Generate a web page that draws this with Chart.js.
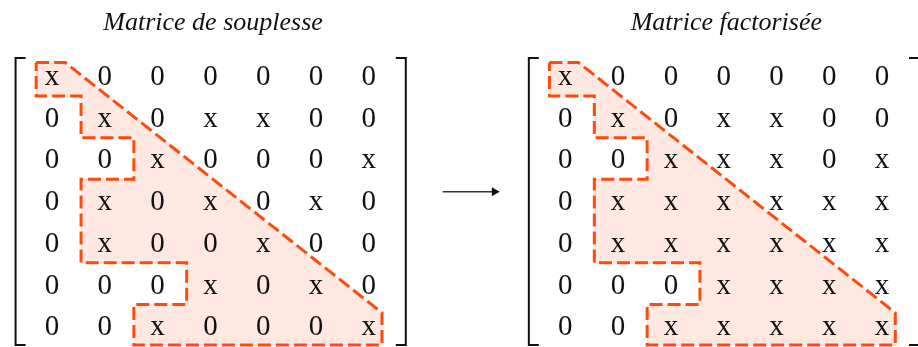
<!DOCTYPE html>
<html>
<head>
<meta charset="utf-8">
<script src="https://cdn.jsdelivr.net/npm/chart.js@4.4.0/dist/chart.umd.min.js"></script>
<style>
  body { margin: 0; background: #fff; }
</style>
</head>
<body>
<canvas id="matrices" width="918" height="347"></canvas>
<script>
// matrix entries, row by row
const souplesse = [
  ['x', '0', '0', '0', '0', '0', '0'],
  ['0', 'x', '0', 'x', 'x', '0', '0'],
  ['0', '0', 'x', '0', '0', '0', 'x'],
  ['0', 'x', '0', 'x', '0', 'x', '0'],
  ['0', 'x', '0', '0', 'x', '0', '0'],
  ['0', '0', '0', 'x', '0', 'x', '0'],
  ['0', '0', 'x', '0', '0', '0', 'x']
];
const factorisee = [
  ['x', '0', '0', '0', '0', '0', '0'],
  ['0', 'x', '0', 'x', 'x', '0', '0'],
  ['0', '0', 'x', 'x', 'x', '0', 'x'],
  ['0', 'x', 'x', 'x', 'x', 'x', 'x'],
  ['0', 'x', 'x', 'x', 'x', 'x', 'x'],
  ['0', '0', '0', 'x', 'x', 'x', 'x'],
  ['0', '0', 'x', 'x', 'x', 'x', 'x']
];
const titles = ['Matrice de souplesse', 'Matrice factorisée'];

// column offset of the second matrix (in cells)
const shift = 9.72;
const n = souplesse.length;

// skyline outline: first non zero of each row, then the diagonal
function profile(m, dx) {
  const first = m.map(row => row.indexOf('x'));
  const top = -0.3, bottom = n - 1 + 0.47;
  const pts = [];
  pts.push({x: first[0] - 0.3 + dx, y: top});
  pts.push({x: first[0] + 0.25 + dx, y: top});
  pts.push({x: n - 1 + 0.25 + dx, y: n - 1 - 0.3});
  pts.push({x: n - 1 + 0.25 + dx, y: bottom});
  for (let r = n - 1; r >= 0; r--) {
    const pad = r === 0 ? 0.3 : 0.45;
    pts.push({x: first[r] - pad + dx, y: r === n - 1 ? bottom : r + 0.5});
    pts.push({x: first[r] - pad + dx, y: r === 0 ? top : r - 0.5});
  }
  return pts;
}

const outline = {
  type: 'scatter',
  showLine: true,
  fill: 'shape',
  backgroundColor: 'rgba(255, 80, 20, 0.13)',
  borderColor: '#ff4a0d',
  borderWidth: 3,
  borderDash: [13, 5],
  borderJoinStyle: 'miter',
  pointRadius: 0,
  tension: 0
};

const cellFont = '29px "Times New Roman", "Liberation Serif", serif';
const titleFont = 'italic 26px "Times New Roman", "Liberation Serif", serif';

const matrixText = {
  id: 'matrixText',
  afterDatasetsDraw(chart) {
    const {ctx, scales: {x, y}} = chart;
    ctx.save();
    ctx.fillStyle = '#111';
    ctx.strokeStyle = '#111';
    ctx.textAlign = 'center';
    ctx.textBaseline = 'alphabetic';
    [souplesse, factorisee].forEach((m, k) => {
      const dx = k * shift;
      ctx.font = cellFont;
      m.forEach((row, r) => row.forEach((v, c) => {
        ctx.fillText(v, x.getPixelForValue(c + dx), y.getPixelForValue(r) + 10);
      }));
      // brackets
      const yt = y.getPixelForValue(-0.41), yb = y.getPixelForValue(n - 1 + 0.47);
      const xl = x.getPixelForValue(-0.69 + dx), xr = x.getPixelForValue(n - 1 + 0.7 + dx);
      ctx.lineWidth = 2;
      ctx.beginPath();
      ctx.moveTo(xl + 10, yt); ctx.lineTo(xl, yt); ctx.lineTo(xl, yb); ctx.lineTo(xl + 10, yb);
      ctx.moveTo(xr - 10, yt); ctx.lineTo(xr, yt); ctx.lineTo(xr, yb); ctx.lineTo(xr - 10, yb);
      ctx.stroke();
      // title
      ctx.font = titleFont;
      ctx.fillText(titles[k], x.getPixelForValue(3.05 + dx), 30);
    });
    // arrow between the two matrices
    const ay = y.getPixelForValue(2.8);
    const ax0 = x.getPixelForValue(7.4), ax1 = x.getPixelForValue(8.48);
    ctx.strokeStyle = '#333';
    ctx.fillStyle = '#111';
    ctx.lineWidth = 1.5;
    ctx.beginPath();
    ctx.moveTo(ax0, ay); ctx.lineTo(ax1 - 6, ay);
    ctx.stroke();
    ctx.beginPath();
    ctx.moveTo(ax1, ay); ctx.lineTo(ax1 - 8, ay - 4.5); ctx.lineTo(ax1 - 8, ay + 4.5);
    ctx.closePath();
    ctx.fill();
    ctx.restore();
  }
};

new Chart(document.getElementById('matrices'), {
  type: 'scatter',
  data: {
    datasets: [
      {...outline, data: profile(souplesse, 0)},
      {...outline, data: profile(factorisee, shift)}
    ]
  },
  options: {
    responsive: false,
    animation: false,
    layout: {padding: 0},
    scales: {
      x: {type: 'linear', display: false, min: -0.985, max: 16.4},
      y: {type: 'linear', display: false, min: -1.8, max: 6.52, reverse: true}
    },
    plugins: {
      legend: {display: false},
      tooltip: {enabled: false}
    }
  },
  plugins: [matrixText]
});
</script>
</body>
</html>
